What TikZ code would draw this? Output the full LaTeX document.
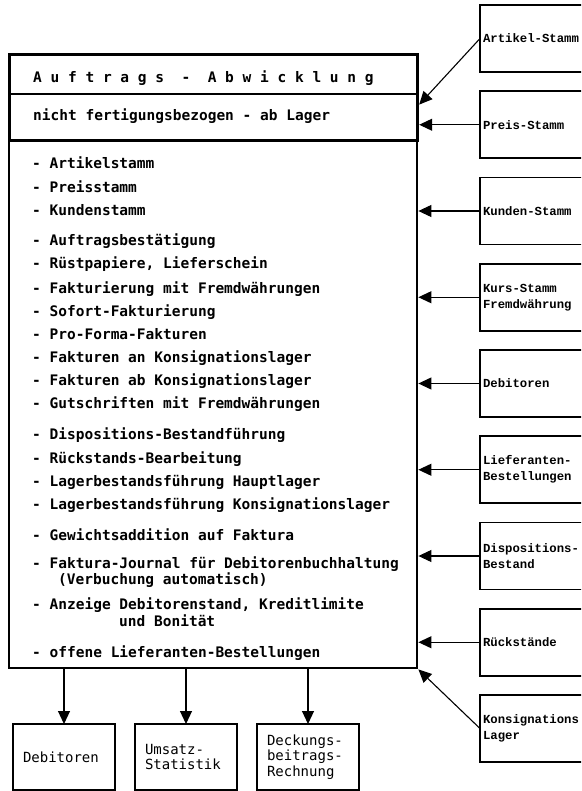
\documentclass[tikz,border=0pt]{standalone}
\usepackage{fontspec}
\usepackage{tikz}
\usetikzlibrary{arrows.meta, positioning}
\newfontfamily\listenschrift{DejaVu Sans Mono}
\newfontfamily\kastenschrift{Liberation Mono}
\tikzset{
	every node/.style={
		font=\listenschrift\bfseries\fontsize{14.5}{17}\selectfont
	},
	zeile/.style={
		anchor=base west,
		inner sep=0pt
	},
	kopf/.style={
		shape=rectangle,
		anchor=north west,
		minimum width=408pt,
		minimum height=86pt,
		line width=3.2pt,
		draw
	},
	titelbox/.style={
		shape=rectangle,
		anchor=north west,
		minimum width=408pt,
		minimum height=40pt,
		line width=1.6pt,
		draw
	},
	liste/.style={
		shape=rectangle,
		anchor=north west,
		minimum width=408pt,
		minimum height=528pt,
		line width=2.4pt,
		draw
	},
	stamm/.style={
		shape=rectangle,
		minimum width=110pt,
		minimum height=67pt,
		text width=104pt,
		inner xsep=3pt,
		outer sep=0pt,
		align=left,
		line width=1.6pt,
		draw,
		font=\kastenschrift\bfseries\fontsize{12.3}{16}\selectfont
	},
	ausgabe/.style={
		shape=rectangle,
		minimum width=102pt,
		minimum height=66pt,
		text width=82pt,
		inner xsep=10pt,
		outer sep=0pt,
		align=left,
		line width=1.6pt,
		draw,
		font=\listenschrift\fontsize{14}{15.5}\selectfont
	},
	pfeil/.style={-{Triangle[length=13pt,width=12pt]}, line width=1.1pt}
}
\begin{document}
\begin{tikzpicture}[x=1pt,y=-1pt]
	\useasboundingbox (0,0) rectangle (581,791);
	\clip (0,0) rectangle (581,791);
	
	% Kopf
	\node[kopf]     (kopf)  at (8,53) {};
	\node[titelbox] (titel) at (8,53) {};
	\node[zeile] (titeltext) at (33,83)  {A u f t r a g s~~-~~A b w i c k l u n g};
	\node[zeile] (untertext) at (33,121) {nicht fertigungsbezogen - ab Lager};
	
	% Liste der Funktionen
	\node[liste] (liste) at (8,139) {};
	\node[zeile] (z1)  at (32,169) {- Artikelstamm};
	\node[zeile] (z2)  at (32,193) {- Preisstamm};
	\node[zeile] (z3)  at (32,216) {- Kundenstamm};
	\node[zeile] (z4)  at (32,246) {- Auftragsbestätigung};
	\node[zeile] (z5)  at (32,269) {- Rüstpapiere, Lieferschein};
	\node[zeile] (z6)  at (32,293) {- Fakturierung mit Fremdwährungen};
	\node[zeile] (z7)  at (32,316) {- Sofort-Fakturierung};
	\node[zeile] (z8)  at (32,339) {- Pro-Forma-Fakturen};
	\node[zeile] (z9)  at (32,362) {- Fakturen an Konsignationslager};
	\node[zeile] (z10) at (32,385) {- Fakturen ab Konsignationslager};
	\node[zeile] (z11) at (32,408) {- Gutschriften mit Fremdwährungen};
	\node[zeile] (z12) at (32,439) {- Dispositions-Bestandführung};
	\node[zeile] (z13) at (32,463) {- Rückstands-Bearbeitung};
	\node[zeile] (z14) at (32,486) {- Lagerbestandsführung Hauptlager};
	\node[zeile] (z15) at (32,509) {- Lagerbestandsführung Konsignationslager};
	\node[zeile] (z16) at (32,540) {- Gewichtsaddition auf Faktura};
	\node[zeile] (z17) at (32,568) {- Faktura-Journal für Debitorenbuchhaltung};
	\node[zeile] (z18) at (58,584) {(Verbuchung automatisch)};
	\node[zeile] (z19) at (32,609) {- Anzeige Debitorenstand, Kreditlimite};
	\node[zeile] (z20) at (119,626) {und Bonität};
	\node[zeile] (z21) at (32,657) {- offene Lieferanten-Bestellungen};
	
	% Stammdaten rechts
	\node[stamm, anchor=north west] (artikel) at (480,5) {Artikel-Stamm};
	\node[stamm] (preis)       [below=19.25pt of artikel]     {Preis-Stamm};
	\node[stamm] (kunden)      [below=19.25pt of preis]       {Kunden-Stamm};
	\node[stamm] (kurs)        [below=19.25pt of kunden]      {Kurs-Stamm\\Fremdwährung};
	\node[stamm] (debitoren)   [below=19.25pt of kurs]        {Debitoren};
	\node[stamm] (lieferanten) [below=19.25pt of debitoren]   {Lieferanten-\\Bestellungen};
	\node[stamm] (dispo)       [below=19.25pt of lieferanten] {Dispositions-\\Bestand};
	\node[stamm] (rueck)       [below=19.25pt of dispo]       {Rückstände};
	\node[stamm] (konsig)      [below=19.25pt of rueck]       {Konsignations\\Lager};
	
	\draw[pfeil] (artikel.west) -- ([yshift=-7pt]kopf.east);
	\draw[pfeil] (preis.west) -- (preis.west -| kopf.east);
	\draw[pfeil] (kunden.west) -- (kunden.west -| liste.east);
	\draw[pfeil] (kurs.west) -- (kurs.west -| liste.east);
	\draw[pfeil] (debitoren.west) -- (debitoren.west -| liste.east);
	\draw[pfeil] (lieferanten.west) -- (lieferanten.west -| liste.east);
	\draw[pfeil] (dispo.west) -- (dispo.west -| liste.east);
	\draw[pfeil] (rueck.west) -- (rueck.west -| liste.east);
	\draw[pfeil] (konsig.west) -- (liste.south east);
	
	% Ausgaben unten
	\node[ausgabe, anchor=north west] (deb) at (13,724) {Debitoren};
	\node[ausgabe] (umsatz)  [right=20pt of deb]    {Umsatz-\\Statistik};
	\node[ausgabe] (deckung) [right=20pt of umsatz] {Deckungs-\\beitrags-\\Rechnung};
	
	\draw[pfeil] (liste.south -| deb.north) -- (deb.north);
	\draw[pfeil] (liste.south -| umsatz.north) -- (umsatz.north);
	\draw[pfeil] (liste.south -| deckung.north) -- (deckung.north);
	
\end{tikzpicture}
\end{document}
